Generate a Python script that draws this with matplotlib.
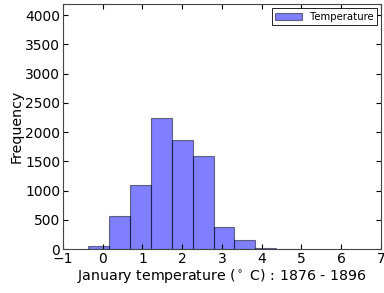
import matplotlib
matplotlib.use("Agg")
import matplotlib.pyplot as plt
import numpy as np

bin_edges = [-0.36, 0.165, 0.69, 1.215, 1.74, 2.265, 2.79, 3.315, 3.84, 4.365, 4.89]
counts = [46, 557, 1099, 2239, 1868, 1600, 376, 147, 12, 3]
xticks = [-1, 0, 1, 2, 3, 4, 5, 6, 7]
yticks = [0, 500, 1000, 1500, 2000, 2500, 3000, 3500, 4000]

centers = [(a + b) / 2 for a, b in zip(bin_edges[:-1], bin_edges[1:])]

fig = plt.figure(figsize=(3.84, 2.93), dpi=100)
ax = fig.add_axes([0.164, 0.150, 0.828, 0.836])
ax.hist(centers, bins=bin_edges, weights=counts, color='blue', alpha=0.5,
        edgecolor='black', linewidth=0.8, label='Temperature')
ax.set_xlim(-1, 7)
ax.set_ylim(0, 4190)
ax.set_xticks(xticks)
ax.set_yticks(yticks)
ax.tick_params(direction='in', top=True, right=True, labelsize=10, length=3.5, pad=2)
ax.set_xlabel(r'January temperature ($^\circ$ C) : 1876 - 1896', fontsize=10.2, labelpad=1)
ax.set_ylabel('Frequency', fontsize=10.2, labelpad=1)
for s in ax.spines.values():
    s.set_linewidth(0.8)
    s.set_color('#444444')
leg = ax.legend(loc='upper right', fontsize=7.3, fancybox=False, framealpha=1,
                edgecolor='black', borderaxespad=0.4, handlelength=2.6,
                borderpad=0.35)
leg.get_frame().set_linewidth(0.6)
fig.savefig('out.png', dpi=100)
